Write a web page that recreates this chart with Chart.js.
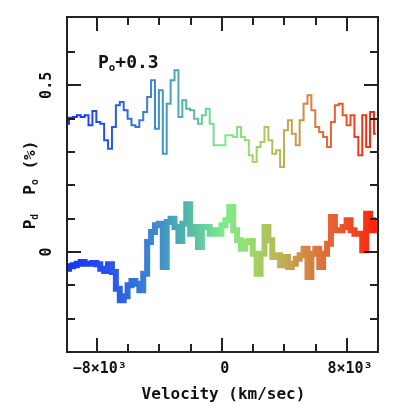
<!DOCTYPE html>
<html>
<head>
<meta charset="utf-8">
<script src="https://cdn.jsdelivr.net/npm/chart.js@4/dist/chart.umd.min.js"></script>
<style>
  html, body { margin: 0; padding: 0; background: #fff; }
  #wrap { width: 394px; height: 414px; }
</style>
</head>
<body>
<div id="wrap"><canvas id="polChart" width="394" height="414"></canvas></div>
<script>
// velocity bins (km/sec)
const velocity = [-9900,-9650,-9400,-9150,-8900,-8650,-8400,-8150,-7900,-7650,
  -7400,-7150,-6900,-6650,-6400,-6150,-5900,-5650,-5400,-5150,
  -4900,-4650,-4400,-4150,-3900,-3650,-3400,-3150,-2900,-2650,
  -2400,-2150,-1900,-1650,-1400,-1150,-900,-650,-400,-150,
  100,350,600,850,1100,1350,1600,1850,2100,2350,
  2600,2850,3100,3350,3600,3850,4100,4350,4600,4850,
  5100,5350,5600,5850,6100,6350,6600,6850,7100,7350,
  7600,7850,8100,8350,8600,8850,9100,9350,9600,9850];

// dominant axis polarization P_d (%)
const pD = [-0.05,-0.043,-0.04,-0.035,-0.03,-0.035,-0.035,-0.033,-0.037,-0.05,
  -0.057,-0.037,-0.06,-0.11,-0.145,-0.133,-0.10,-0.087,-0.095,-0.115,
  -0.065,0.03,0.06,0.08,0.085,-0.045,0.09,0.10,0.075,0.033,
  0.085,0.143,0.055,0.075,0.015,0.075,0.075,0.055,0.065,0.055,
  0.08,0.095,0.135,0.065,0.035,0.01,0.03,0.033,-0.005,-0.065,
  -0.005,0.075,0.035,-0.015,-0.01,-0.04,-0.015,-0.045,-0.035,-0.02,
  -0.01,0.01,-0.075,-0.005,0.01,-0.045,-0.005,0.025,0.105,0.065,
  0.065,0.075,0.095,0.065,0.055,0.055,0.005,0.115,0.065,0.095];

// orthogonal axis polarization P_o (%), drawn shifted by +0.3
const pO = [0.085,0.103,0.105,0.11,0.105,0.11,0.08,0.123,0.09,0.085,
  0.035,0.01,0.075,0.14,0.15,0.125,0.1,0.08,0.075,0.095,
  0.12,0.165,0.215,0.07,0.185,-0.005,0.145,0.215,0.245,0.105,
  0.155,0.13,0.125,0.1,0.085,0.11,0.13,0.085,0.02,0.02,
  0.02,0.05,0.05,0.045,0.075,0.045,0.035,-0.01,-0.03,0.015,
  0.03,0.075,0.035,-0.005,0.005,-0.045,0.065,0.095,0.055,0.02,
  0.095,0.145,0.17,0.125,0.075,0.06,0.045,0.015,0.09,0.14,
  0.145,0.11,0.08,0.11,0.045,-0.01,0.11,0.015,0.12,0.055];
const OFFSET = 0.3;

const xMajor = [-8000, 0, 8000];
const xMajorLabels = ['\u22128\u00d710\u00b3', '0', '8\u00d710\u00b3'];
const xMinor = [-6000, -4000, -2000, 2000, 4000, 6000];
const yMajor = [0, 0.5];
const yMajorLabels = ['0', '0.5'];
const yMinor = [-0.2, -0.1, 0.1, 0.2, 0.3, 0.4, 0.6];

const FONT = '"DejaVu Sans Mono", "Liberation Mono", monospace';

// rainbow along the velocity axis
function rainbow(context) {
  const chart = context.chart;
  const area = chart.chartArea;
  if (!area) return 'rgb(80,160,160)';
  const g = chart.ctx.createLinearGradient(area.left, 0, area.right, 0);
  g.addColorStop(0.00, 'rgb(20,50,245)');
  g.addColorStop(0.14, 'rgb(40,85,235)');
  g.addColorStop(0.30, 'rgb(65,145,200)');
  g.addColorStop(0.38, 'rgb(80,180,170)');
  g.addColorStop(0.50, 'rgb(125,235,140)');
  g.addColorStop(0.58, 'rgb(150,222,110)');
  g.addColorStop(0.68, 'rgb(188,182,85)');
  g.addColorStop(0.80, 'rgb(218,120,65)');
  g.addColorStop(0.90, 'rgb(238,78,40)');
  g.addColorStop(1.00, 'rgb(255,30,10)');
  return g;
}

// draw text made of pieces, some as subscripts
function richWidth(ctx, parts, size) {
  let w = 0;
  parts.forEach(p => {
    ctx.font = 'bold ' + (p.sub ? size * 0.6 : size) + 'px ' + FONT;
    w += ctx.measureText(p.t).width;
  });
  return w;
}
function drawRich(ctx, parts, x, y, size) {
  let cx = x;
  parts.forEach(p => {
    const s = p.sub ? size * 0.6 : size;
    ctx.font = 'bold ' + s + 'px ' + FONT;
    ctx.fillText(p.t, cx, p.sub ? y + size * 0.3 : y);
    cx += ctx.measureText(p.t).width;
  });
}

const framePlugin = {
  id: 'frame',
  afterDraw(chart) {
    const ctx = chart.ctx;
    const a = chart.chartArea;
    const xs = chart.scales.x, ys = chart.scales.y;
    ctx.save();
    ctx.strokeStyle = '#222';
    ctx.fillStyle = '#111';
    ctx.lineWidth = 2;
    ctx.strokeRect(a.left, a.top, a.right - a.left, a.bottom - a.top);

    ctx.beginPath();
    const tickX = (v, len) => {
      const px = Math.round(xs.getPixelForValue(v));
      ctx.moveTo(px, a.bottom); ctx.lineTo(px, a.bottom - len);
      ctx.moveTo(px, a.top); ctx.lineTo(px, a.top + len);
    };
    const tickY = (v, len) => {
      const py = Math.round(ys.getPixelForValue(v));
      ctx.moveTo(a.left, py); ctx.lineTo(a.left + len, py);
      ctx.moveTo(a.right, py); ctx.lineTo(a.right - len, py);
    };
    xMajor.forEach(v => tickX(v, 14));
    xMinor.forEach(v => tickX(v, 8));
    yMajor.forEach(v => tickY(v, 14));
    yMinor.forEach(v => tickY(v, 8));
    ctx.stroke();

    // x tick labels
    ctx.font = 'bold 15px ' + FONT;
    ctx.textAlign = 'center';
    ctx.textBaseline = 'middle';
    xMajor.forEach((v, i) => {
      ctx.fillText(xMajorLabels[i], xs.getPixelForValue(v) + 3, a.bottom + 17);
    });
    ctx.font = 'bold 16px ' + FONT;
    ctx.fillText('Velocity (km/sec)', (a.left + a.right) / 2 + 1, a.bottom + 43);

    // y tick labels, rotated
    ctx.font = 'bold 15px ' + FONT;
    yMajor.forEach((v, i) => {
      ctx.save();
      ctx.translate(a.left - 20, ys.getPixelForValue(v));
      ctx.rotate(-Math.PI / 2);
      ctx.fillText(yMajorLabels[i], 0, 0);
      ctx.restore();
    });

    // y axis title
    const yTitle = [{t: 'P'}, {t: 'd', sub: true}, {t: '  P'}, {t: 'o', sub: true}, {t: ' (%)'}];
    ctx.save();
    ctx.translate(a.left - 36, 185);
    ctx.rotate(-Math.PI / 2);
    ctx.textAlign = 'left';
    const w = richWidth(ctx, yTitle, 16);
    drawRich(ctx, yTitle, -w / 2, 0, 16);
    ctx.restore();

    // series annotation
    ctx.textAlign = 'left';
    drawRich(ctx, [{t: 'P'}, {t: 'o', sub: true}, {t: '+0.3'}], a.left + 31, 63, 18);
    ctx.restore();
  }
};

new Chart(document.getElementById('polChart'), {
  type: 'line',
  data: {
    labels: velocity,
    datasets: [
      {
        label: 'P_o + 0.3',
        data: velocity.map((v, i) => ({x: v, y: pO[i] + OFFSET})),
        borderColor: rainbow,
        borderWidth: 2,
        stepped: 'middle',
        pointRadius: 0,
        fill: false
      },
      {
        label: 'P_d',
        data: velocity.map((v, i) => ({x: v, y: pD[i]})),
        borderColor: rainbow,
        borderWidth: 6,
        stepped: 'middle',
        pointRadius: 0,
        fill: false
      }
    ]
  },
  options: {
    responsive: false,
    animation: false,
    layout: { padding: { left: 67, right: 16, top: 17, bottom: 62 } },
    plugins: { legend: { display: false }, tooltip: { enabled: false } },
    scales: {
      x: { type: 'linear', min: -9900, max: 9984, display: false },
      y: { type: 'linear', min: -0.30, max: 0.705, display: false }
    }
  },
  plugins: [framePlugin]
});
</script>
</body>
</html>
